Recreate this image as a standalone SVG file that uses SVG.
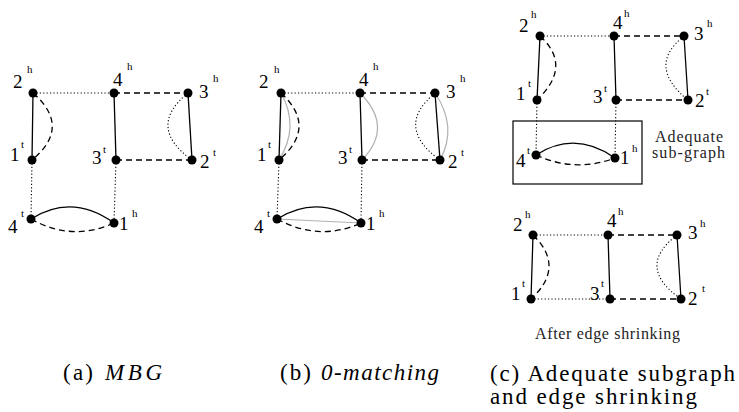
<svg xmlns="http://www.w3.org/2000/svg" width="739" height="412" viewBox="0 0 739 412">
<style>
.s{fill:none;stroke:#000;stroke-width:1.3}
.d{fill:none;stroke:#000;stroke-width:1.3;stroke-dasharray:6 4}
.o{fill:none;stroke:#000;stroke-width:1.1;stroke-dasharray:1.2 2.2}
.g{fill:none;stroke:#b0b0b0;stroke-width:1.2}
circle{fill:#000}
text{font-family:"Liberation Serif","Times New Roman",serif;fill:#000}
.l{font-size:19px}
.u{font-size:11px}
.c{font-size:23px}
.i{font-style:italic}
.t{font-size:16px;fill:#222}
</style>
<rect width="739" height="412" fill="#fff"/>
<g id="connectors">
<line class="o" x1="33" y1="93" x2="114" y2="93"/>
<line class="d" x1="114" y1="93" x2="188" y2="93"/>
<line class="s" x1="33" y1="93" x2="32" y2="160"/>
<path class="d" d="M33,93 Q72,127 32,160"/>
<line class="s" x1="114" y1="93" x2="116" y2="160"/>
<line class="s" x1="188" y1="93" x2="192" y2="160"/>
<path class="o" d="M188,93 Q146,127 192,160"/>
<line class="d" x1="116" y1="160" x2="192" y2="160"/>
<line class="o" x1="32" y1="160" x2="31" y2="219"/>
<line class="o" x1="116" y1="160" x2="114" y2="223"/>
<path class="s" d="M31,219 Q72,193 114,223"/>
<path class="d" d="M31,219 Q72,242 114,223"/>
<line class="o" x1="281" y1="93" x2="360" y2="93"/>
<line class="d" x1="360" y1="93" x2="435" y2="93"/>
<path class="g" d="M281,93 Q300,127 279,160"/>
<line class="s" x1="281" y1="93" x2="279" y2="160"/>
<path class="d" d="M281,93 Q318,127 279,160"/>
<path class="g" d="M360,93 Q394,127 362,160"/>
<line class="s" x1="360" y1="93" x2="362" y2="160"/>
<path class="g" d="M435,93 Q458,127 440,160"/>
<line class="s" x1="435" y1="93" x2="440" y2="160"/>
<path class="o" d="M435,93 Q394,127 440,160"/>
<line class="d" x1="362" y1="160" x2="440" y2="160"/>
<line class="o" x1="279" y1="160" x2="277" y2="219"/>
<line class="o" x1="362" y1="160" x2="361" y2="223"/>
<line class="g" x1="277" y1="219" x2="361" y2="223"/>
<path class="s" d="M277,219 Q319,193 361,223"/>
<path class="d" d="M277,219 Q319,242 361,223"/>
<line class="o" x1="540" y1="36" x2="614" y2="36"/>
<line class="d" x1="614" y1="36" x2="684" y2="36"/>
<line class="s" x1="540" y1="36" x2="537" y2="100"/>
<path class="d" d="M540,36 Q573,66 537,100"/>
<line class="s" x1="614" y1="36" x2="616" y2="100"/>
<line class="s" x1="684" y1="36" x2="688" y2="100"/>
<path class="o" d="M684,36 Q646,66 688,100"/>
<line class="d" x1="616" y1="100" x2="688" y2="100"/>
<line class="o" x1="537" y1="100" x2="536" y2="155"/>
<line class="o" x1="616" y1="100" x2="615" y2="158"/>
<path class="s" d="M536,155 Q575,130 615,158"/>
<path class="d" d="M536,155 Q575,173 615,158"/>
<line class="o" x1="533" y1="235" x2="608" y2="235"/>
<line class="d" x1="608" y1="235" x2="677" y2="235"/>
<line class="s" x1="533" y1="235" x2="531" y2="299"/>
<path class="d" d="M533,235 Q566,267 531,299"/>
<line class="s" x1="608" y1="235" x2="610" y2="299"/>
<line class="s" x1="677" y1="235" x2="681" y2="299"/>
<path class="o" d="M677,235 Q635,267 681,299"/>
<line class="o" x1="531" y1="299" x2="610" y2="299"/>
<line class="d" x1="610" y1="299" x2="681" y2="299"/>
</g>
<g id="a-2h"><circle cx="33" cy="93" r="4.5"/><text class="l" x="13" y="88">2</text><text class="u" x="27" y="73">h</text></g>
<g id="a-4h"><circle cx="114" cy="93" r="4.5"/><text class="l" x="113" y="86">4</text><text class="u" x="127" y="70">h</text></g>
<g id="a-3h"><circle cx="188" cy="93" r="4.5"/><text class="l" x="199" y="98">3</text><text class="u" x="213" y="82">h</text></g>
<g id="a-1t"><circle cx="32" cy="160" r="4.5"/><text class="l" x="10" y="161">1</text><text class="u" x="21" y="148">t</text></g>
<g id="a-3t"><circle cx="116" cy="160" r="4.5"/><text class="l" x="92" y="164">3</text><text class="u" x="103" y="153">t</text></g>
<g id="a-2t"><circle cx="192" cy="160" r="4.5"/><text class="l" x="200" y="168">2</text><text class="u" x="213" y="156">t</text></g>
<g id="a-4t"><circle cx="31" cy="219" r="4.5"/><text class="l" x="8" y="233">4</text><text class="u" x="21" y="217">t</text></g>
<g id="a-1h"><circle cx="114" cy="223" r="4.5"/><text class="l" x="119" y="230">1</text><text class="u" x="132" y="217">h</text></g>
<g id="b-2h"><circle cx="281" cy="93" r="4.5"/><text class="l" x="259" y="88">2</text><text class="u" x="274" y="73">h</text></g>
<g id="b-4h"><circle cx="360" cy="93" r="4.5"/><text class="l" x="359" y="86">4</text><text class="u" x="373" y="70">h</text></g>
<g id="b-3h"><circle cx="435" cy="93" r="4.5"/><text class="l" x="446" y="98">3</text><text class="u" x="460" y="82">h</text></g>
<g id="b-1t"><circle cx="279" cy="160" r="4.5"/><text class="l" x="257" y="161">1</text><text class="u" x="268" y="148">t</text></g>
<g id="b-3t"><circle cx="362" cy="160" r="4.5"/><text class="l" x="338" y="164">3</text><text class="u" x="349" y="153">t</text></g>
<g id="b-2t"><circle cx="440" cy="160" r="4.5"/><text class="l" x="448" y="168">2</text><text class="u" x="461" y="156">t</text></g>
<g id="b-4t"><circle cx="277" cy="219" r="4.5"/><text class="l" x="254" y="233">4</text><text class="u" x="267" y="217">t</text></g>
<g id="b-1h"><circle cx="361" cy="223" r="4.5"/><text class="l" x="366" y="230">1</text><text class="u" x="379" y="217">h</text></g>
<g id="c-2h"><circle cx="540" cy="36" r="4.5"/><text class="l" x="519" y="32">2</text><text class="u" x="531" y="18">h</text></g>
<g id="c-4h"><circle cx="614" cy="36" r="4.5"/><text class="l" x="613" y="29">4</text><text class="u" x="624" y="17">h</text></g>
<g id="c-3h"><circle cx="684" cy="36" r="4.5"/><text class="l" x="694" y="40">3</text><text class="u" x="707" y="27">h</text></g>
<g id="c-1t"><circle cx="537" cy="100" r="4.5"/><text class="l" x="516" y="100">1</text><text class="u" x="528" y="87">t</text></g>
<g id="c-3t"><circle cx="616" cy="100" r="4.5"/><text class="l" x="593" y="103">3</text><text class="u" x="604" y="92">t</text></g>
<g id="c-2t"><circle cx="688" cy="100" r="4.5"/><text class="l" x="695" y="107">2</text><text class="u" x="706" y="95">t</text></g>
<g id="c-4t"><circle cx="536" cy="155" r="4.5"/><text class="l" x="516" y="167">4</text><text class="u" x="527" y="154">t</text></g>
<g id="c-1h"><circle cx="615" cy="158" r="4.5"/><text class="l" x="620" y="164">1</text><text class="u" x="632" y="152">h</text></g>
<g id="subgraph-box"><rect x="513" y="121" width="129" height="63" fill="none" stroke="#000" stroke-width="1.2"/></g>
<g id="subgraph-label"><text class="t" x="655" y="142" textLength="68">Adequate</text><text class="t" x="652" y="158" textLength="73">sub-graph</text></g>
<g id="d-2h"><circle cx="533" cy="235" r="4.5"/><text class="l" x="513" y="231">2</text><text class="u" x="525" y="218">h</text></g>
<g id="d-4h"><circle cx="608" cy="235" r="4.5"/><text class="l" x="607" y="227">4</text><text class="u" x="618" y="215">h</text></g>
<g id="d-3h"><circle cx="677" cy="235" r="4.5"/><text class="l" x="688" y="239">3</text><text class="u" x="700" y="227">h</text></g>
<g id="d-1t"><circle cx="531" cy="299" r="4.5"/><text class="l" x="511" y="300">1</text><text class="u" x="522" y="287">t</text></g>
<g id="d-3t"><circle cx="610" cy="299" r="4.5"/><text class="l" x="590" y="300">3</text><text class="u" x="601" y="287">t</text></g>
<g id="d-2t"><circle cx="681" cy="299" r="4.5"/><text class="l" x="688" y="305">2</text><text class="u" x="702" y="292">t</text></g>
<g id="after-label"><text class="t" x="535" y="339" textLength="145">After edge shrinking</text></g>
<g id="captions">
<text class="c" x="63" y="380" textLength="30">(a)</text>
<text class="c i" x="105" y="380" textLength="57">MBG</text>
<text class="c" x="280" y="380" textLength="31">(b)</text>
<text class="c i" x="321" y="380" textLength="118">0-matching</text>
<text class="c" x="490" y="381" textLength="245">(c) Adequate subgraph</text>
<text class="c" x="490" y="404" textLength="207">and edge shrinking</text>
</g>
</svg>
